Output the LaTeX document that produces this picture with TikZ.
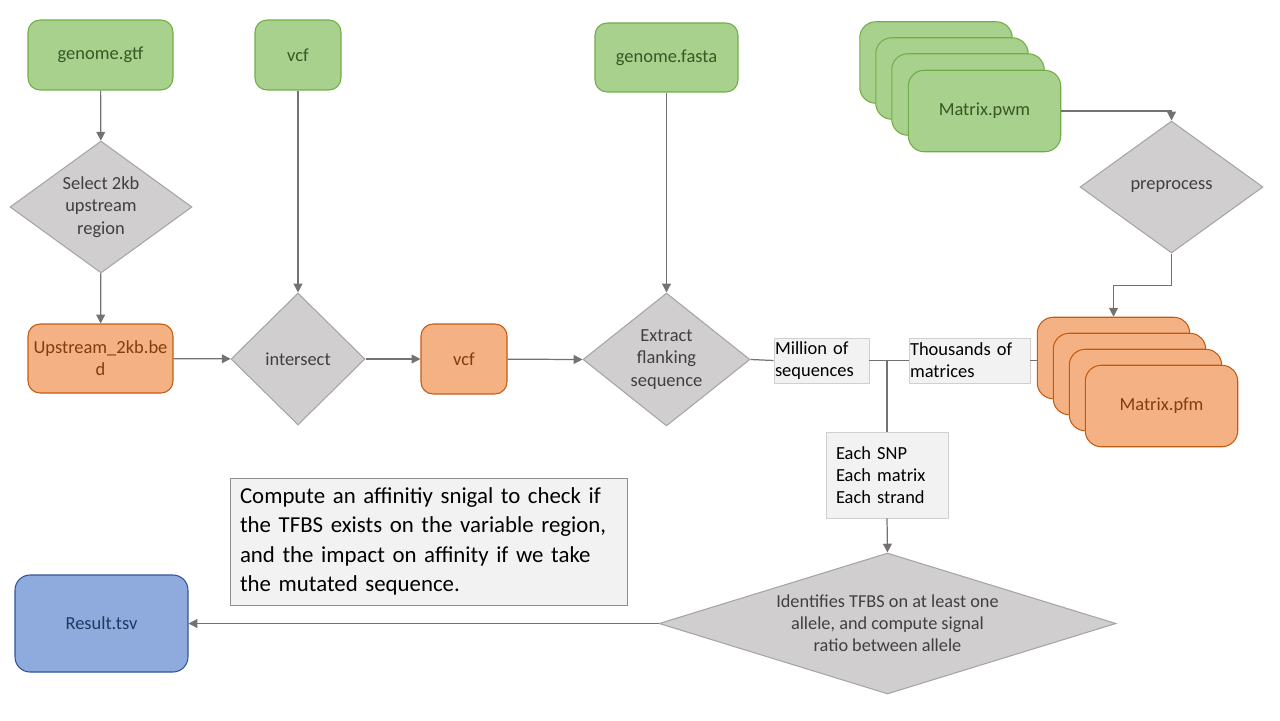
\documentclass[tikz,border=0pt]{standalone}
\usepackage{fontspec}
\setmainfont{Carlito}
\usetikzlibrary{shapes}
\usetikzlibrary{arrows.meta}
\usetikzlibrary{positioning}

\definecolor{gfill}{HTML}{A9D18E}
\definecolor{gline}{HTML}{70AD47}
\definecolor{gtext}{HTML}{385723}
\definecolor{ofill}{HTML}{F4B183}
\definecolor{oline}{HTML}{C55A11}
\definecolor{otext}{HTML}{843C0C}
\definecolor{bfill}{HTML}{8FAADC}
\definecolor{bline}{HTML}{2F5597}
\definecolor{btext}{HTML}{203864}
\definecolor{dfill}{HTML}{D0CECE}
\definecolor{dline}{HTML}{A5A5A5}
\definecolor{dtext}{HTML}{404040}
\definecolor{nfill}{HTML}{F2F2F2}
\definecolor{nline}{HTML}{D0D0D0}
\definecolor{aline}{HTML}{767171}

\tikzset{
  box/.style={rectangle, rounded corners=0.24cm, line width=0.6pt,
    font=\fontsize{10.5}{12.5}\selectfont, align=center, inner sep=1pt},
  greenbox/.style={box, fill=gfill, draw=gline, text=gtext},
  orangebox/.style={box, fill=ofill, draw=oline, text=otext},
  bluebox/.style={box, fill=bfill, draw=bline, text=btext},
  stackbox/.style={rounded corners=0.32cm, minimum width=3.05cm, minimum height=1.63cm},
  decision/.style={diamond, fill=dfill, draw=dline, text=dtext, line width=0.6pt,
    inner sep=0pt, align=center, font=\fontsize{10.5}{12.75}\selectfont},
  note/.style={rectangle, fill=nfill, draw=nline, line width=0.5pt, align=left,
    text=black, font=\fontsize{10.5}{12.5}\selectfont},
  flow/.style={draw=aline, line width=0.7pt, -{Triangle[length=5pt,width=5pt]}},
  link/.style={draw=aline, line width=0.7pt},
}

\begin{document}
\begin{tikzpicture}[x=0.02cm, y=-0.02cm]
  \useasboundingbox (0,0) rectangle (1280,720);

  % inputs
  \node[greenbox, minimum width=2.9cm, minimum height=1.4cm] (gtf) at (100.5,55) {genome.gtf};
  \node[greenbox, minimum width=1.72cm, minimum height=1.4cm] (vcfin) at (298,55) {vcf};
  \node[greenbox, minimum width=2.86cm, minimum height=1.38cm] (fasta) at (666.5,57.5) {genome.fasta};
  \foreach \k in {0,1,2}
    \node[greenbox, stackbox] at (936+16*\k, 62.5+16*\k) {};
  \node[greenbox, stackbox] (pwm) at (984.5,111) {Matrix.pwm};

  % processing steps
  \node[decision, aspect=1.38, minimum width=3.64cm, minimum height=2.64cm] (select) at (101,207)
    {Select 2kb\\upstream\\region};
  \node[orangebox, minimum width=2.9cm, minimum height=1.38cm] (bed) at (100.5,358.5)
    {Upstream\_2kb.be\\d};
  \node[decision, aspect=1, minimum width=2.68cm, minimum height=2.64cm] (inter) at (298,359) {intersect};
  \node[orangebox, minimum width=1.72cm, minimum height=1.4cm] (vcfout) at (464,359) {vcf};
  \node[decision, aspect=1.26, minimum width=3.34cm, minimum height=2.66cm] (extract) at (666.5,359.5)
    {Extract\\flanking\\sequence};
  \node[decision, aspect=1.39, minimum width=3.66cm, minimum height=2.64cm] (prep) at (1171.5,187) {preprocess};

  \node[orangebox, stackbox] (pfmback) at (1113.5,358) {};
  \foreach \k in {1,2}
    \node[orangebox, stackbox] at (1113.5+16*\k, 358+16*\k) {};
  \node[orangebox, stackbox] (pfm) at (1161.5,406) {Matrix.pfm};

  % labels on the way
  \node[note, minimum width=1.9cm, minimum height=0.9cm, text width=1.86cm, inner sep=0.02cm] (million)
    at (821.5,360.5) {Million of\\sequences};
  \node[note, minimum width=2.42cm, minimum height=0.9cm, text width=2.38cm, inner sep=0.02cm] (thousands)
    at (969.5,360.5) {Thousands of\\matrices};
  \node[note, minimum width=2.44cm, minimum height=1.72cm, text width=2.04cm, inner xsep=0.2cm] (each)
    at (887,475) {Each SNP\\Each matrix\\Each strand};
  \node[note, draw=aline!80, minimum width=7.94cm, minimum height=2.54cm, text width=7.54cm, inner xsep=0.2cm,
    font=\fontsize{13}{16.8}\selectfont] (compute) at (428.5,541.5)
    {Compute an affinitiy snigal to check if\\the TFBS exists on the variable region,\\and the impact on affinity if we take\\the mutated sequence.};

  % scoring and output
  \node[decision, aspect=3.24, minimum width=9.14cm, minimum height=2.82cm,
    font=\fontsize{10.4}{12.5}\selectfont] (identify) at (887.5,623.5)
    {Identifies TFBS on at least one\\allele, and compute signal\\ratio between allele};
  \node[bluebox, minimum width=3.46cm, minimum height=1.94cm, rounded corners=0.3cm] (result) at (101.5,623.5) {Result.tsv};

  \coordinate (split) at (million.east -| each.north);

  % connectors
  \draw[flow] (gtf) -- (select);
  \draw[flow] (select) -- (bed);
  \draw[flow] (vcfin) -- (inter);
  \draw[flow] (bed) -- (inter);
  \draw[flow] (inter) -- (vcfout);
  \draw[flow] (vcfout) -- (extract.west);
  \draw[flow] (fasta) -- (extract);
  \draw[flow] (pwm.east) -| (prep.north);
  \draw[flow] (prep.south) -- ++(0,32) -| (pfmback.north);
  \draw[link] (extract.east) -- (million.west);
  \draw[link] (million.east) -- (split) -- (thousands.west);
  \draw[link] (thousands.east) -- (thousands.east -| pfmback.west);
  \draw[link] (split) -- (each.north);
  \draw[flow] (each.south) -- (identify.north);
  \draw[flow] (identify.west) -- (result.east);
\end{tikzpicture}
\end{document}
